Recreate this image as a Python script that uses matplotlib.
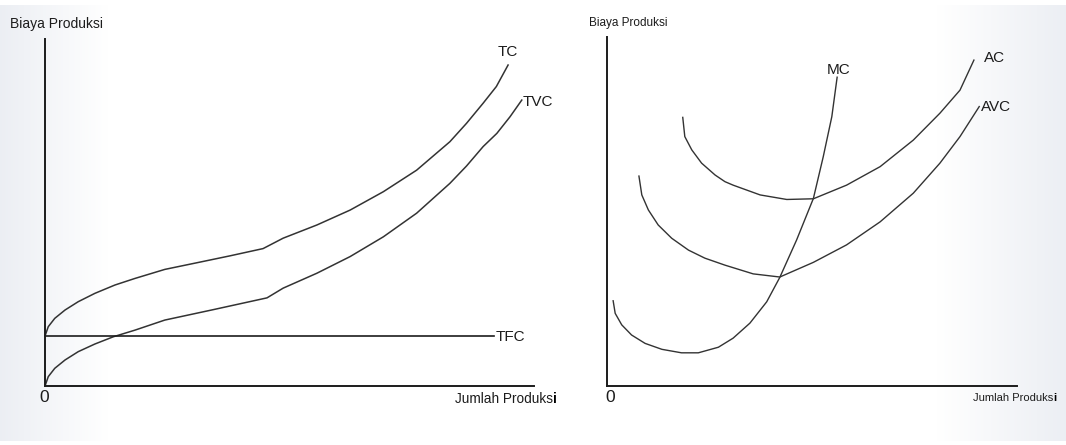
import numpy as np
import matplotlib
matplotlib.use("Agg")
import matplotlib.pyplot as plt

plt.rcParams['font.family'] = ['Liberation Sans', 'DejaVu Sans']

# kurva biaya total (panel kiri), skala 0-100
q_tc = [0, 0.67, 2.0, 4.1, 6.8, 10.2, 14.3, 18.4, 24.5, 31.0, 37.8, 44.6,
        48.7, 55.6, 62.4, 69.2, 76.0, 82.8, 86.2, 89.6, 92.3, 94.7]
tc = [14.4, 17.1, 19.5, 21.9, 24.3, 26.7, 29.1, 31.0, 33.6, 35.5, 37.5, 39.6,
      42.6, 46.4, 50.7, 56.0, 62.2, 70.4, 75.7, 81.5, 86.3, 92.5]

q_tvc = [0, 0.67, 2.0, 4.1, 6.8, 10.2, 14.0, 18.4, 24.5, 34.4, 45.4,
         48.7, 55.6, 62.4, 69.2, 76.0, 82.8, 86.2, 89.6, 92.4, 95.1, 97.5]
tvc = [0, 2.7, 5.1, 7.5, 9.9, 12.1, 14.2, 16.1, 19.0, 22.0, 25.4,
       28.2, 32.5, 37.3, 43.0, 49.8, 58.4, 63.4, 69.0, 72.8, 77.6, 82.4]

q_tfc = [0, 91.8]
tfc = [14.4, 14.4]

# kurva biaya rata-rata dan marjinal (panel kanan)
q_mc = [1.5, 2.0, 3.6, 6.0, 9.3, 13.4, 18.2, 22.3, 27.2, 30.8, 34.9, 39.0,
        42.2, 46.3, 50.4, 52.8, 54.9, 56.2]
mc = [24.4, 20.8, 17.5, 14.6, 12.2, 10.5, 9.5, 9.5, 11.1, 13.7, 18.0, 24.1,
      31.1, 41.8, 53.7, 65.6, 77.1, 88.4]

q_ac = [18.5, 19.0, 20.7, 23.1, 26.4, 28.8, 30.8, 37.4, 43.9, 50.4, 58.5,
        66.7, 74.8, 81.3, 86.2, 89.6]
ac = [76.9, 71.4, 67.6, 63.8, 60.4, 58.5, 57.5, 54.7, 53.4, 53.6, 57.5,
      62.8, 70.4, 78.1, 84.7, 93.3]

q_avc = [7.8, 8.5, 10.1, 12.5, 15.8, 19.9, 23.9, 28.8, 35.7, 42.2, 50.4,
         58.5, 66.7, 74.8, 81.3, 86.2, 90.9]
avc = [60.1, 54.7, 50.4, 46.1, 42.3, 38.9, 36.6, 34.6, 32.1, 31.2, 35.4,
       40.4, 47.0, 55.2, 63.8, 71.4, 80.0]

W, H = 1066, 445
fig = plt.figure(figsize=(W / 100, H / 100), dpi=100)

# latar abu-abu tipis di tepi kiri dan kanan
bg = fig.add_axes([0, 4 / H, 1, 1 - 9 / H], zorder=-10)
xs = np.linspace(0, 1, 400)
t = np.clip(1 - xs / 0.1, 0, 1) + np.clip((xs - 0.88) / 0.12, 0, 1)
grad = np.ones((1, len(xs), 3))
for i, c in enumerate([0.925, 0.935, 0.955]):
    grad[0, :, i] = 1 - t * (1 - c)
bg.imshow(grad, aspect='auto', extent=[0, 1, 0, 1])
bg.axis('off')

ink = '#1c1c1c'
curve = '#333333'


def px(x, y):
    return x / W, 1 - y / H


def setup(ax):
    ax.set_xlim(0, 100)
    ax.set_ylim(0, 100)
    ax.patch.set_alpha(0)
    for s in ['top', 'right']:
        ax.spines[s].set_visible(False)
    for s in ['left', 'bottom']:
        ax.spines[s].set_linewidth(1.4)
        ax.spines[s].set_color(ink)
    ax.set_xticks([])
    ax.set_yticks([])


ax1 = fig.add_axes([45 / W, 59 / H, 489 / W, 347 / H])
setup(ax1)
ax1.plot(q_tc, tc, color=curve, lw=1.1, clip_on=False)
ax1.plot(q_tvc, tvc, color=curve, lw=1.1, clip_on=False)
ax1.plot(q_tfc, tfc, color=ink, lw=1.2, clip_on=False)
ax1.text(94.7, 96.3, 'TC', fontsize=11, color=ink, ha='center', va='center')
ax1.text(97.6, 81.8, 'TVC', fontsize=11, color=ink, ha='left', va='center')
ax1.text(92.2, 14.2, 'TFC', fontsize=11, color=ink, ha='left', va='center')

ax2 = fig.add_axes([607 / W, 59 / H, 409.5 / W, 349.3 / H])
setup(ax2)
ax2.plot(q_mc, mc, color=curve, lw=1.0, clip_on=False)
ax2.plot(q_ac, ac, color=curve, lw=1.0, clip_on=False)
ax2.plot(q_avc, avc, color=curve, lw=1.0, clip_on=False)
ax2.text(56.6, 90.5, 'MC', fontsize=11, color=ink, ha='center', va='center')
ax2.text(94.7, 93.8, 'AC', fontsize=11, color=ink, ha='center', va='center')
ax2.text(91.3, 80.0, 'AVC', fontsize=11, color=ink, ha='left', va='center')

# judul sumbu
fig.text(*px(10, 24), 'Biaya Produksi', fontsize=10, color=ink, va='center')
fig.text(*px(589, 23), 'Biaya Produksi', fontsize=8.5, color=ink, va='center')
fig.text(*px(43.7, 397), '0', fontsize=12.5, color=ink, ha='center', va='center')
fig.text(*px(610.5, 397), '0', fontsize=12.5, color=ink, ha='center', va='center')

t1 = fig.text(*px(455, 399), 'Jumlah Produks', fontsize=9.8, color=ink, va='center')
ax1.annotate('i', xy=(1, 0), xycoords=t1, va='bottom', fontsize=9.8,
             color='black', fontweight='bold')
t2 = fig.text(*px(973, 398), 'Jumlah Produks', fontsize=8, color=ink, va='center')
ax2.annotate('i', xy=(1, 0), xycoords=t2, va='bottom', fontsize=8,
             color='black', fontweight='bold')

fig.savefig('out.png', dpi=100)
